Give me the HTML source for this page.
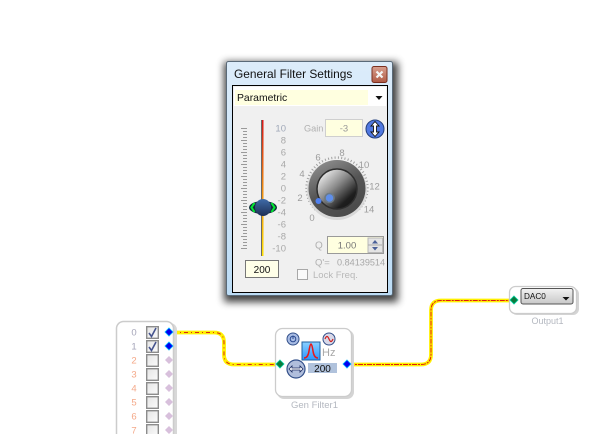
<!DOCTYPE html>
<html>
<head>
<meta charset="utf-8">
<style>
html,body{margin:0;padding:0;background:#fff;width:606px;height:434px;overflow:hidden}
svg{display:block;position:absolute;left:0;top:0}
text{font-family:"Liberation Sans",sans-serif}
</style>
</head>
<body>
<svg width="606" height="434" viewBox="0 0 606 434" xmlns="http://www.w3.org/2000/svg">
<defs>
<filter id="sh" x="-20%" y="-20%" width="140%" height="140%"><feGaussianBlur stdDeviation="4"/></filter>
<linearGradient id="tb" x1="0" y1="0" x2="0" y2="1"><stop offset="0" stop-color="#dcecfa"/><stop offset="1" stop-color="#bcdcf5"/></linearGradient>
<linearGradient id="cl" x1="0" y1="0" x2="0" y2="1"><stop offset="0" stop-color="#d8a090"/><stop offset="1" stop-color="#b05a44"/></linearGradient>
<linearGradient id="sl" x1="0" y1="0" x2="0" y2="1"><stop offset="0" stop-color="#d81818"/><stop offset="0.5" stop-color="#ee8a10"/><stop offset="1" stop-color="#ffe000"/></linearGradient>
<linearGradient id="kn1" x1="0.2" y1="0" x2="0.7" y2="1"><stop offset="0" stop-color="#909090"/><stop offset="0.5" stop-color="#555"/><stop offset="1" stop-color="#4a4a4a"/></linearGradient>
<linearGradient id="kn2" x1="0.1" y1="0.1" x2="0.85" y2="0.9"><stop offset="0" stop-color="#f0f0f0"/><stop offset="0.45" stop-color="#8a8a8a"/><stop offset="0.85" stop-color="#1e1e1e"/><stop offset="1" stop-color="#1a1a1a"/></linearGradient>
<linearGradient id="th" x1="0" y1="0" x2="0" y2="1"><stop offset="0" stop-color="#3f6ba8"/><stop offset="1" stop-color="#1e2f55"/></linearGradient>
<linearGradient id="sel" x1="0" y1="0" x2="0" y2="1"><stop offset="0" stop-color="#f2f2f2"/><stop offset="1" stop-color="#c8c8c8"/></linearGradient>
<linearGradient id="flt" x1="0" y1="0" x2="0" y2="1"><stop offset="0" stop-color="#8ad0ff"/><stop offset="1" stop-color="#2c96ff"/></linearGradient>
<linearGradient id="cb" x1="0" y1="0" x2="1" y2="1"><stop offset="0" stop-color="#e4e4e4"/><stop offset="1" stop-color="#fbfbfb"/></linearGradient>
</defs>

<!-- Wires -->
<g fill="none" stroke-linecap="round">
<path d="M173 332.500H214Q224 332.500 224 342.500V354.500Q224 364.500 234 364.500H278" stroke="#fff000" stroke-width="3.800"/>
<path d="M173 332.500H214Q224 332.500 224 342.500V354.500Q224 364.500 234 364.500H278" stroke="#d82a10" stroke-width="1" stroke-linecap="butt" stroke-dasharray="4 3 1 3"/>
<path d="M349 364.500H421Q431 364.500 431 354.500V310.500Q431 300.500 441 300.500H512" stroke="#fff000" stroke-width="3.800"/>
<path d="M349 364.500H421Q431 364.500 431 354.500V310.500Q431 300.500 441 300.500H512" stroke="#e01a10" stroke-width="1" stroke-linecap="butt" stroke-dasharray="5 1 2 1"/>
</g>

<!-- Left block -->
<rect x="118" y="323" width="59" height="125" rx="7" fill="#d8d8d8"/>
<rect x="116.500" y="321.500" width="57" height="125" rx="7" fill="#fff" stroke="#cccccc" stroke-width="1.500"/>
<g font-size="9.500" text-anchor="middle">
<text x="134" y="335.500" fill="#a4a4b8">0</text>
<text x="134" y="349.500" fill="#a4a4b8">1</text>
<text x="134" y="363.500" fill="#f4a888">2</text>
<text x="134" y="377.500" fill="#f4a888">3</text>
<text x="134" y="391.500" fill="#f4a888">4</text>
<text x="134" y="405.500" fill="#f4a888">5</text>
<text x="134" y="419.500" fill="#f4a888">6</text>
<text x="134" y="433.500" fill="#f4a888">7</text>
</g>
<g fill="url(#cb)" stroke="#8c8c8c" stroke-width="1.400">
<rect x="146.700" y="326.700" width="11.600" height="11.600"/>
<rect x="146.700" y="340.700" width="11.600" height="11.600"/>
<rect x="146.700" y="354.700" width="11.600" height="11.600"/>
<rect x="146.700" y="368.700" width="11.600" height="11.600"/>
<rect x="146.700" y="382.700" width="11.600" height="11.600"/>
<rect x="146.700" y="396.700" width="11.600" height="11.600"/>
<rect x="146.700" y="410.700" width="11.600" height="11.600"/>
<rect x="146.700" y="424.700" width="11.600" height="11.600"/>
</g>
<path d="M149 333L151.500 336.500L156 328M149 347L151.500 350.500L156 342" fill="none" stroke="#46548e" stroke-width="1.600"/>
<path d="M169 328L173 332L169 336L165 332Z" fill="#0000f0" stroke="#00b8ff" stroke-width="0.800"/>
<path d="M169 342L173 346L169 350L165 346Z" fill="#0000f0" stroke="#00b8ff" stroke-width="0.800"/>
<g fill="#d8c0dc">
<path d="M169 356L173 360L169 364L165 360Z"/>
<path d="M169 370L173 374L169 378L165 374Z"/>
<path d="M169 384L173 388L169 392L165 388Z"/>
<path d="M169 398L173 402L169 406L165 402Z"/>
<path d="M169 412L173 416L169 420L165 416Z"/>
<path d="M169 426L173 430L169 434L165 430Z"/>
</g>

<!-- Gen Filter -->
<rect x="277" y="330" width="77" height="69" rx="7" fill="#d4d4d4"/>
<rect x="275.500" y="328.500" width="76" height="68" rx="7" fill="#fff" stroke="#cccccc" stroke-width="1.300"/>
<circle cx="293" cy="339" r="6" fill="#a8bce4" stroke="#33508a"/>
<circle cx="293" cy="339" r="2.800" fill="none" stroke="#2a4a90"/>
<line x1="293" y1="335.500" x2="293" y2="339" stroke="#2a4a90"/>
<circle cx="329" cy="339" r="6" fill="#d8d8e8" stroke="#33508a"/>
<path d="M325 339Q327 334 329 339T333 339" fill="none" stroke="#d02020" stroke-width="1.200"/>
<rect x="302" y="342" width="18" height="18" fill="url(#flt)" stroke="#2060a0"/>
<path d="M304 358Q308 358 309 351Q310 344 311 344Q312 344 313 351Q314 358 318 358" fill="none" stroke="#e81818" stroke-width="1.500"/>
<circle cx="296" cy="369" r="9" fill="#b0bedc" stroke="#33508a" stroke-width="1.200"/>
<path d="M289 369L292 366V368H300V366L303 369L300 372V370H292V372Z" fill="#fff" stroke="#1a2a60" stroke-width="0.800"/>
<text x="322" y="356" font-size="11" fill="#a8a8a8">Hz</text>
<rect x="308" y="363" width="29" height="10" fill="#b0c2dc"/>
<text x="322.500" y="372" font-size="10" text-anchor="middle" fill="#111">200</text>
<path d="M280 360L284 364L280 368L276 364Z" fill="#0a7a3c" stroke="#00d0a0" stroke-width="0.800"/>
<path d="M347 360L351 364L347 368L343 364Z" fill="#0000f0" stroke="#00b8ff" stroke-width="0.800"/>
<text x="314.500" y="408" font-size="9.500" text-anchor="middle" fill="#b4b8c0">Gen Filter1</text>

<!-- Output -->
<rect x="511" y="288" width="68" height="27" rx="6" fill="#d4d4d4"/>
<rect x="509.500" y="286.500" width="67" height="27" rx="6" fill="#fff" stroke="#cccccc" stroke-width="1.300"/>
<rect x="521" y="288.500" width="52" height="15.500" rx="2" fill="url(#sel)" stroke="#555"/>
<text x="524" y="299" font-size="8.200" fill="#111">DAC0</text>
<path d="M562.500 297H569.500L566 300.500Z" fill="#111"/>
<path d="M514 296L518 300L514 304L510 300Z" fill="#0a7a3c" stroke="#00d0a0" stroke-width="0.800"/>
<text x="547.500" y="324" font-size="9" text-anchor="middle" fill="#b4b8c0">Output1</text>

<!-- Window -->
<rect x="224" y="62" width="174" height="240" fill="#000" opacity="0.750" filter="url(#sh)"/>
<rect x="226.500" y="61.500" width="166" height="234" rx="2" fill="url(#tb)" stroke="#5a6a78"/>
<text x="234" y="78" font-size="11.900" fill="#111">General Filter Settings</text>
<rect x="372" y="66.500" width="15" height="16" rx="2" fill="url(#cl)" stroke="#7a3020"/>
<path d="M376.500 71.500L382.500 77.500M382.500 71.500L376.500 77.500" stroke="#f4f4f4" stroke-width="2.200"/>
<rect x="232.500" y="85.500" width="155" height="207" fill="#f0f0f0" stroke="#000"/>
<rect x="234" y="87" width="152" height="19" fill="#fff"/>
<rect x="235" y="90" width="133" height="15" fill="#ffffe0"/>
<text x="237" y="101" font-size="10.400" fill="#111">Parametric</text>
<path d="M375.500 96H382.500L379 100Z" fill="#111"/>

<!-- Tick scale -->
<g stroke="#9a9a9a" stroke-width="1" transform="translate(0,0.5)">
<path d="M241 128H247M243 131H247M243 134H247M243 137H247M241 140H247M243 143H247M243 146H247M243 149H247M241 152H247M243 155H247M243 158H247M243 161H247M241 164H247M243 167H247M243 170H247M243 173H247M241 176H247M243 179H247M243 182H247M243 185H247M241 188H247M243 191H247M243 194H247M243 197H247M241 200H247M243 203H247M243 206H247M243 209H247M241 212H247M243 215H247M243 218H247M243 221H247M241 224H247M243 227H247M243 230H247M243 233H247M241 236H247M243 239H247M243 242H247M243 245H247M241 248H247"/>
</g>
<rect x="261" y="120" width="1" height="136" fill="#6a6a6a"/>
<rect x="262" y="120" width="1.500" height="136" fill="url(#sl)"/>
<ellipse cx="263" cy="207.500" rx="14" ry="6.500" fill="#12303c"/>
<ellipse cx="263" cy="207.500" rx="8" ry="8.500" fill="url(#th)"/>
<path d="M254.500 203L251.500 207.500L254.500 212M271.500 203L274.500 207.500L271.500 212" fill="none" stroke="#00e830" stroke-width="2"/>

<g font-size="9.500" fill="#a8a8a8" text-anchor="end">
<text x="286" y="131.500" fill="#a0a8b8">10</text>
<text x="286" y="143.500">8</text>
<text x="286" y="155.500">6</text>
<text x="286" y="167.500">4</text>
<text x="286" y="179.500">2</text>
<text x="286" y="191.500">0</text>
<text x="286" y="203.500">-2</text>
<text x="286" y="215.500">-4</text>
<text x="286" y="227.500">-6</text>
<text x="286" y="239.500">-8</text>
<text x="286" y="251.500">-10</text>
</g>
<rect x="245.500" y="260.500" width="33" height="17" fill="#ffffe8" stroke="#777"/>
<text x="262" y="273" font-size="10" text-anchor="middle" fill="#111">200</text>

<!-- Gain -->
<text x="304" y="131.500" font-size="9.200" fill="#b0b0b0">Gain</text>
<rect x="325.500" y="119.500" width="37" height="17" fill="#ffffe0" stroke="#cfcfcf"/>
<text x="344" y="131.500" font-size="9.500" text-anchor="middle" fill="#999">-3</text>
<circle cx="375" cy="129" r="9" fill="#5078e0" stroke="#24407c" stroke-width="1"/>
<path d="M375 121.500L379 126H376.500V132H379L375 136.500L371 132H373.500V126H371Z" fill="#fff" stroke="#111" stroke-width="0.900"/>

<!-- Knob -->
<path d="M315.400 209.600A30.500 30.500 0 1 1 358.600 209.600" fill="none" stroke="#a0a0a0" stroke-width="2.400" stroke-dasharray="1 2.300"/>
<circle cx="337" cy="190" r="30" fill="#d8d8d8"/>
<circle cx="337" cy="188.500" r="28.500" fill="url(#kn1)"/>
<circle cx="337" cy="189" r="20" fill="url(#kn2)" stroke="#2e2e2e" stroke-width="1.500"/>
<circle cx="329.500" cy="198" r="4.500" fill="#5f8eea" stroke="#6c7a86" stroke-width="1.600"/>
<circle cx="318.500" cy="201" r="3" fill="#4f80f0"/>
<g font-size="9.500" fill="#9c9c9c" text-anchor="middle">
<text x="312" y="221">0</text>
<text x="300" y="201">2</text>
<text x="302" y="177">4</text>
<text x="318" y="160.500">6</text>
<text x="342" y="156">8</text>
<text x="364" y="168">10</text>
<text x="374.500" y="189.500">12</text>
<text x="369" y="212.500">14</text>
</g>

<!-- Q -->
<text x="315" y="248.500" font-size="10" fill="#b0b0b0">Q</text>
<rect x="327.500" y="236.500" width="56" height="17" fill="#ffffe0" stroke="#9a9a9a"/>
<text x="347" y="248.500" font-size="9.500" text-anchor="middle" fill="#777">1.00</text>
<rect x="368" y="238" width="14.500" height="14.500" fill="#e4e4e4" stroke="#b8b8b8"/>
<line x1="368" y1="245" x2="382" y2="245" stroke="#aaa"/>
<path d="M375 240L378 243.500H372Z" fill="#4a6098"/>
<path d="M375 250.500L378 247H372Z" fill="#4a6098"/>
<text x="315" y="265.500" font-size="9.500" fill="#b0b0b0">Q'=</text>
<text x="337" y="265.500" font-size="9.100" fill="#a8a8a8">0.84139514</text>
<rect x="297.500" y="269.500" width="10" height="10" fill="#fafafa" stroke="#a8a8a8"/>
<text x="313" y="278" font-size="9.500" fill="#b8b8b8">Lock Freq.</text>
</svg>
</body>
</html>
